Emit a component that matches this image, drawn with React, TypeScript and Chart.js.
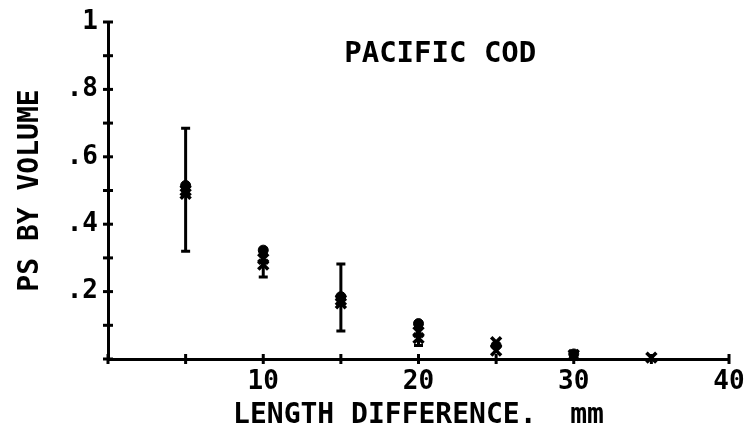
import React, { useEffect, useRef } from 'react';
import { Chart, registerables } from 'chart.js';
Chart.register(...registerables);

const chartTitle = 'PACIFIC COD';
const xAxisTitle = 'LENGTH DIFFERENCE.  mm';
const yAxisTitle = 'PS BY VOLUME';

const crossX = [5, 5, 10, 10, 15, 15, 20, 20, 25, 25, 30, 35];
const crossY = [0.5, 0.49, 0.297, 0.28, 0.175, 0.165, 0.08, 0.062, 0.05, 0.025, 0.012, 0.004];
const circleX = [5, 10, 15, 20, 25, 30];
const circleY = [0.515, 0.323, 0.185, 0.105, 0.04, 0.015];

const errX = [5, 10, 15, 20];
const errLow = [0.32, 0.243, 0.083, 0.04];
const errHigh = [0.685, 0.31, 0.282, 0.11];

const xTickValues = [10, 20, 30, 40];
const xTickLabels = ['10', '20', '30', '40'];
const yTickValues = [0.2, 0.4, 0.6, 0.8, 1];
const yTickLabels = ['.2', '.4', '.6', '.8', '1'];

const FONT = '"DejaVu Sans Mono", monospace';

export default function App() {
  const ref = useRef<HTMLCanvasElement | null>(null);
  useEffect(() => {
    document.body.style.margin = '0';
    const canvas = ref.current!;
    const overlay = {
      id: 'overlay',
      afterDatasetsDraw(chart: any) {
        const ctx = chart.ctx;
        const xs = chart.scales.x;
        const ys = chart.scales.y;
        ctx.save();
        ctx.strokeStyle = '#000';
        // error bars
        ctx.lineWidth = 3;
        for (let i = 0; i < errX.length; i++) {
          const px = xs.getPixelForValue(errX[i]);
          const pl = ys.getPixelForValue(errLow[i]);
          const ph = ys.getPixelForValue(errHigh[i]);
          ctx.beginPath();
          ctx.moveTo(px, pl);
          ctx.lineTo(px, ph);
          ctx.stroke();
          ctx.beginPath();
          ctx.moveTo(px - 4.5, pl);
          ctx.lineTo(px + 4.5, pl);
          ctx.moveTo(px - 4.5, ph);
          ctx.lineTo(px + 4.5, ph);
          ctx.stroke();
        }
        // tick crosses
        ctx.lineWidth = 3;
        const ax = chart.chartArea.left;
        const ay = chart.chartArea.bottom;
        ys.ticks.forEach((t: any) => {
          const py = ys.getPixelForValue(t.value);
          ctx.beginPath();
          ctx.moveTo(ax - 5, py);
          ctx.lineTo(ax + 5, py);
          ctx.stroke();
        });
        xs.ticks.forEach((t: any) => {
          const px = xs.getPixelForValue(t.value);
          ctx.beginPath();
          ctx.moveTo(px, ay - 5);
          ctx.lineTo(px, ay + 5);
          ctx.stroke();
        });
        // chart title
        ctx.fillStyle = '#000';
        ctx.font = 'bold 29px ' + FONT;
        ctx.textAlign = 'center';
        ctx.textBaseline = 'middle';
        ctx.fillText(chartTitle, xs.getPixelForValue(21.4), ys.getPixelForValue(0.905));
        ctx.restore();
      },
    };
    const chart = new Chart(canvas, {
      type: 'scatter',
      data: {
        datasets: [
          {
            data: circleX.map((x, i) => ({ x, y: circleY[i] })),
            pointStyle: 'circle',
            pointRadius: 5,
            backgroundColor: '#000',
            borderColor: '#000',
            borderWidth: 1,
            clip: false,
          } as any,
          {
            data: crossX.map((x, i) => ({ x, y: crossY[i] })),
            pointStyle: 'crossRot',
            pointRadius: 7,
            borderColor: '#000',
            borderWidth: 3.5,
            clip: false,
          } as any,
        ],
      },
      options: {
        responsive: false,
        animation: false,
        layout: { padding: { left: 0, top: 22, right: 22, bottom: 0 } },
        plugins: { legend: { display: false }, tooltip: { enabled: false }, title: { display: false } },
        scales: {
          x: {
            type: 'linear',
            min: 0,
            max: 40,
            grid: { display: false },
            border: { display: true, color: '#000', width: 3 },
            afterFit: (s: any) => { s.height = 72; },
            ticks: {
              stepSize: 5,
              autoSkip: false,
              maxRotation: 0,
              padding: 0,
              color: '#000',
              font: { family: FONT, size: 26, weight: 'bold' },
              callback: (v: any) => {
                const i = xTickValues.indexOf(Math.round(Number(v)));
                return i >= 0 ? xTickLabels[i] : '';
              },
            },
            title: {
              display: true,
              text: xAxisTitle,
              color: '#000',
              font: { family: FONT, size: 28, lineHeight: 1, weight: 'bold' },
              padding: { top: 0, bottom: 1 },
            },
          },
          y: {
            type: 'linear',
            min: 0,
            max: 1,
            grid: { display: false },
            border: { display: true, color: '#000', width: 3 },
            afterFit: (s: any) => { s.width = 108; },
            ticks: {
              stepSize: 0.1,
              autoSkip: false,
              padding: 2,
              color: '#000',
              font: { family: FONT, size: 26, weight: 'bold' },
              callback: (v: any) => {
                const r = Math.round(Number(v) * 10) / 10;
                const i = yTickValues.findIndex((t) => Math.abs(t - r) < 1e-6);
                return i >= 0 ? yTickLabels[i] : '';
              },
            },
            title: {
              display: true,
              text: yAxisTitle,
              color: '#000',
              font: { family: FONT, size: 28, lineHeight: 1, weight: 'bold' },
              padding: { top: 17, bottom: 0 },
            },
          },
        },
      } as any,
      plugins: [overlay],
    });
    return () => chart.destroy();
  }, []);
  return (
    <div style={{ position: 'absolute', left: 0, top: 0, width: 751, height: 431, background: '#fff' }}>
      <canvas ref={ref} width={751} height={431} style={{ width: 751, height: 431 }} />
    </div>
  );
}
